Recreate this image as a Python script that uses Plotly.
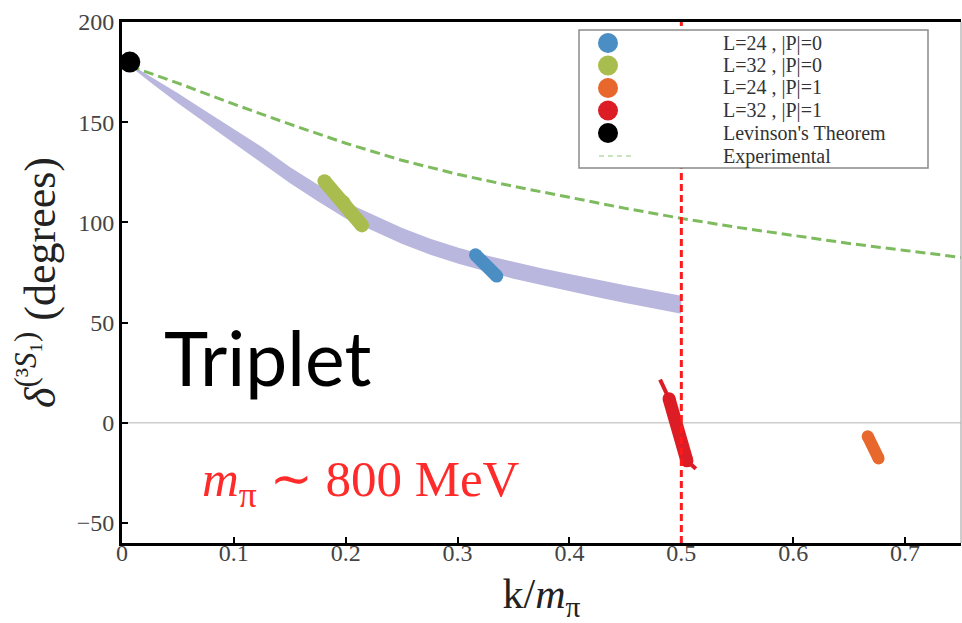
import plotly.graph_objects as go

# ---- data -------------------------------------------------------------
# fitted phase-shift band (lower / upper edge)
band_k = [0.007, 0.025, 0.05, 0.075, 0.1, 0.125, 0.15, 0.175, 0.2, 0.225, 0.25,
          0.275, 0.3, 0.325, 0.35, 0.375, 0.4, 0.425, 0.45, 0.475, 0.5]
band_lo = [178.0, 170.0, 159.5, 149.5, 139.5, 129.6, 119.6, 110.6, 102.0, 95.7, 89.3,
           84.0, 79.5, 75.6, 71.9, 68.7, 65.6, 62.7, 59.8, 57.0, 54.4]
band_hi = [179.0, 173.0, 164.5, 155.5, 146.5, 137.6, 127.6, 118.6, 110.0, 103.7, 97.3,
           92.0, 87.5, 83.6, 80.3, 77.1, 74.2, 71.3, 68.6, 66.0, 63.4]

# experimental phase shift
exp_k = [0.007, 0.05, 0.1, 0.15, 0.2, 0.25, 0.3, 0.35, 0.4, 0.45, 0.5,
         0.55, 0.6, 0.65, 0.7, 0.75]
exp_d = [178, 169.5, 159, 149, 139.5, 131, 124, 118, 112.5, 107, 102,
         97.5, 93.5, 89.5, 86, 82.5]

# Levinson's theorem point
lev_k = [0.007]
lev_d = [180]

# lattice results
l24_p0_k = [0.316, 0.335]
l24_p0_d = [83.8, 73.2]
l32_p0_k = [0.181, 0.198, 0.2145]
l32_p0_d = [120.5, 110.0, 98.5]
l24_p1_k = [0.6666, 0.6763]
l24_p1_d = [-6.7, -17.8]
l32_p1_k = [0.481, 0.489, 0.505, 0.513]
l32_p1_d = [21.5, 12.0, -19.0, -23.0]

x_ticks = [0, 0.1, 0.2, 0.3, 0.4, 0.5, 0.6, 0.7]
y_ticks = [-50, 0, 50, 100, 150, 200]

legend_labels = ["L=24 , |P|=0", "L=32 , |P|=0", "L=24 , |P|=1", "L=32 , |P|=1",
                 "Levinson's Theorem", "Experimental"]

# ---- styling ----------------------------------------------------------
C_BLUE = "#4a8ec3"
C_GREEN = "#a8bd4e"
C_ORANGE = "#e8672d"
C_RED = "#dc1d25"
C_BAND = "#b9b7de"
C_EXP = "#7dbb5e"
SERIF = "Liberation Serif"

fig = go.Figure()

# band
fig.add_trace(go.Scatter(x=band_k, y=band_lo, mode="lines", line=dict(width=0, color=C_BAND),
                         hoverinfo="skip", showlegend=False))
fig.add_trace(go.Scatter(x=band_k, y=band_hi, mode="lines", line=dict(width=0, color=C_BAND),
                         fill="tonexty", fillcolor=C_BAND, hoverinfo="skip", showlegend=False))

# experimental curve
fig.add_trace(go.Scatter(x=exp_k, y=exp_d, mode="lines",
                         line=dict(color=C_EXP, width=3, dash="10px,5px"), showlegend=False))


def stroke(k, d, color, width):
    # thick segment with rounded ends
    fig.add_trace(go.Scatter(x=k, y=d, mode="lines+markers",
                             line=dict(color=color, width=width),
                             marker=dict(color=color, size=width, line=dict(width=0)),
                             showlegend=False))


stroke(l32_p0_k, l32_p0_d, C_GREEN, 14)
stroke(l24_p0_k, l24_p0_d, C_BLUE, 13)
stroke(l24_p1_k, l24_p1_d, C_ORANGE, 12)
fig.add_trace(go.Scatter(x=l32_p1_k, y=l32_p1_d, mode="lines",
                         line=dict(color=C_RED, width=4), showlegend=False))
stroke(l32_p1_k[1:3], l32_p1_d[1:3], C_RED, 13)

# Levinson point
fig.add_trace(go.Scatter(x=lev_k, y=lev_d, mode="markers",
                         marker=dict(color="black", size=21), cliponaxis=False,
                         showlegend=False))

# reference lines
fig.add_shape(type="line", xref="paper", x0=0, x1=1, yref="y", y0=0, y1=0,
              line=dict(color="#cdcdcd", width=1.5), layer="below")
fig.add_shape(type="line", xref="x", x0=0.5, x1=0.5, yref="paper", y0=0, y1=1,
              line=dict(color="#ff1a1a", width=3, dash="7px,4px"))
# right frame edge
fig.add_shape(type="line", xref="paper", x0=1, x1=1, yref="paper", y0=0, y1=1,
              line=dict(color="#9a9a9a", width=1))

# ---- legend box -------------------------------------------------------
L, T, W, H = 122, 22, 839, 521  # plot area in px


def px(xp):
    return (xp - L) / W


def py(yp):
    return (T + H - yp) / H


fig.add_shape(type="rect", xref="paper", yref="paper", x0=px(579), x1=px(928),
              y0=py(168), y1=py(30), line=dict(color="#8a8a8a", width=1.5),
              fillcolor="white", layer="above")
row_y = [43, 65.5, 88, 110.5, 133, 156]
leg_colors = [C_BLUE, C_GREEN, C_ORANGE, C_RED, "black"]
for yy, col in zip(row_y[:5], leg_colors):
    fig.add_shape(type="circle", xref="paper", yref="paper", xsizemode="pixel",
                  ysizemode="pixel", xanchor=px(608), yanchor=py(yy),
                  x0=-10, x1=10, y0=-10, y1=10, fillcolor=col, line=dict(width=0),
                  layer="above")
fig.add_shape(type="line", xref="paper", yref="paper", x0=px(599), x1=px(634),
              y0=py(156), y1=py(156), line=dict(color="#b5dcaa", width=1.5, dash="5px,4px"),
              layer="above")
for yy, lab in zip(row_y, legend_labels):
    fig.add_annotation(x=px(721), y=py(yy), xref="paper", yref="paper", text=lab,
                       showarrow=False, xanchor="left", yanchor="middle",
                       font=dict(family=SERIF, size=20, color="#333333"))

# ---- text labels ------------------------------------------------------
fig.add_annotation(x=px(162), y=py(357), xref="paper", yref="paper", text="Triplet",
                   showarrow=False, xanchor="left", yanchor="middle",
                   font=dict(family="Lato", size=75, color="black"))
fig.add_annotation(x=px(200), y=py(483), xref="paper", yref="paper",
                   text="<i>m</i><sub>π</sub> ∼ 800 MeV",
                   showarrow=False, xanchor="left", yanchor="middle",
                   font=dict(family=SERIF, size=51, color="#ff2a2a"))

# ---- axes -------------------------------------------------------------
fig.update_xaxes(range=[0, 0.75], tickvals=x_ticks, ticktext=[f"{v:g}" for v in x_ticks],
                 showline=True, linecolor="black", linewidth=3, mirror=True,
                 ticks="inside", ticklen=6, tickwidth=2, tickcolor="black",
                 showgrid=False, zeroline=False, ticklabelstandoff=-14,
                 tickfont=dict(family=SERIF, size=24, color="#444444"),
                 title=dict(text="k/<i>m</i><sub>π</sub>",
                            font=dict(family=SERIF, size=42, color="#222222"), standoff=14))
fig.update_yaxes(range=[-60, 200], tickvals=y_ticks,
                 showline=True, linecolor="black", linewidth=3, mirror=False,
                 ticks="inside", ticklen=6, tickwidth=2, tickcolor="black",
                 showgrid=False, zeroline=False,
                 tickfont=dict(family=SERIF, size=24, color="#444444"),
                 title=dict(text="<i>δ</i><sup>(³<i>S</i>₁)</sup> (degrees)",
                            font=dict(family=SERIF, size=44, color="#222222"), standoff=8))

fig.update_layout(width=962, height=623, margin=dict(l=L, r=1, t=T, b=80),
                  plot_bgcolor="white", paper_bgcolor="white", showlegend=False)

fig.write_html("out.html")
